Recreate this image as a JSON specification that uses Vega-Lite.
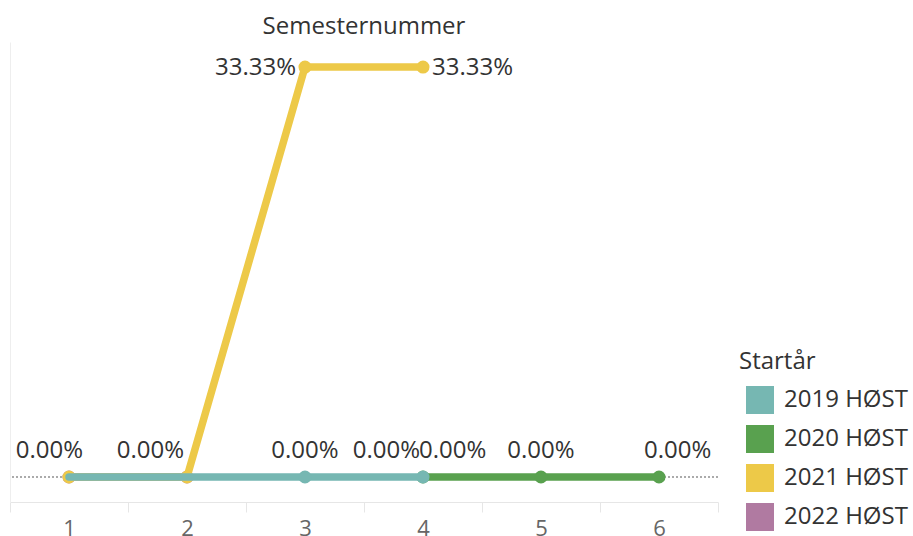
{
  "$schema": "https://vega.github.io/schema/vega-lite/v6.json",
  "autosize": "none",
  "width": 708,
  "height": 460,
  "padding": {"left": 10, "top": 42, "right": 195, "bottom": 34},
  "background": "white",
  "title": {"text": "Semesternummer", "font": "Open Sans", "fontSize": 24, "fontWeight": "normal", "color": "#333", "anchor": "middle", "frame": "group", "baseline": "alphabetic", "offset": 9, "dy": 25},
  "config": {"view": {"stroke": null}},
  "data": {"values": [
    {"Startar": "2022 HØST", "Semester": 1, "Andel": 0},
    {"Startar": "2022 HØST", "Semester": 2, "Andel": 0},
    {"Startar": "2021 HØST", "Semester": 1, "Andel": 0},
    {"Startar": "2021 HØST", "Semester": 2, "Andel": 0},
    {"Startar": "2021 HØST", "Semester": 3, "Andel": 0.3333},
    {"Startar": "2021 HØST", "Semester": 4, "Andel": 0.3333},
    {"Startar": "2020 HØST", "Semester": 4, "Andel": 0},
    {"Startar": "2020 HØST", "Semester": 5, "Andel": 0},
    {"Startar": "2020 HØST", "Semester": 6, "Andel": 0},
    {"Startar": "2019 HØST", "Semester": 1, "Andel": 0},
    {"Startar": "2019 HØST", "Semester": 2, "Andel": 0},
    {"Startar": "2019 HØST", "Semester": 3, "Andel": 0},
    {"Startar": "2019 HØST", "Semester": 4, "Andel": 0}
  ]},
  "encoding": {
    "x": {"field": "Semester", "type": "ordinal", "scale": {"type": "band", "paddingInner": 0, "paddingOuter": 0},
      "axis": {"title": null, "labelAngle": 0, "tickBand": "extent", "grid": false, "domainColor": "#e6e6e6", "tickColor": "#e6e6e6", "tickSize": 10, "labelFont": "Open Sans", "labelFontSize": 22, "labelColor": "#666", "labelPadding": 6}},
    "y": {"field": "Andel", "type": "quantitative", "scale": {"domain": [-0.02033, 0.35365], "nice": false, "zero": false},
      "axis": {"title": null, "labels": false, "ticks": false, "grid": false, "domain": true, "domainColor": "#eeeeee"}},
    "color": {"field": "Startar", "type": "nominal",
      "scale": {"domain": ["2019 HØST", "2020 HØST", "2021 HØST", "2022 HØST"], "range": ["#76B7B2", "#59A14F", "#EDC948", "#B07AA1"]},
      "legend": {"title": "Startår", "orient": "none", "legendX": 729, "legendY": 308, "titleFont": "Open Sans", "titleFontSize": 24, "titleFontWeight": "normal", "titleColor": "#333", "titlePadding": 12, "labelFont": "Open Sans", "labelFontSize": 24, "labelColor": "#333", "symbolType": "square", "symbolSize": 784, "symbolStrokeWidth": 0, "symbolOffset": 7, "labelOffset": 10, "rowPadding": 11,
        "encode": {"symbols": {"update": {"fill": {"scale": "color", "field": "value"}, "stroke": {"value": "transparent"}, "opacity": {"value": 1}, "fillOpacity": {"value": 1}}}}}}
  },
  "layer": [
    {"mark": {"type": "rule", "strokeDash": [2, 2], "color": "#aaaaaa", "strokeWidth": 1}, "encoding": {"x": null, "color": null, "y": {"datum": 0, "type": "quantitative"}}},
    {"transform": [{"filter": "datum.Startar == '2022 HØST'"}], "mark": {"type": "line", "strokeWidth": 7.5, "strokeCap": "round", "strokeJoin": "round"}},
    {"transform": [{"filter": "datum.Startar == '2022 HØST'"}], "mark": {"type": "point", "filled": true, "size": 170, "opacity": 1}},
    {"transform": [{"filter": "datum.Startar == '2021 HØST'"}], "mark": {"type": "line", "strokeWidth": 7.5, "strokeCap": "round", "strokeJoin": "round"}},
    {"transform": [{"filter": "datum.Startar == '2021 HØST'"}], "mark": {"type": "point", "filled": true, "size": 170, "opacity": 1}},
    {"transform": [{"filter": "datum.Startar == '2020 HØST'"}], "mark": {"type": "line", "strokeWidth": 7.5, "strokeCap": "round", "strokeJoin": "round"}},
    {"transform": [{"filter": "datum.Startar == '2020 HØST'"}], "mark": {"type": "point", "filled": true, "size": 170, "opacity": 1}},
    {"transform": [{"filter": "datum.Startar == '2019 HØST'"}], "mark": {"type": "line", "strokeWidth": 7.5, "strokeCap": "round", "strokeJoin": "round"}},
    {"transform": [{"filter": "datum.Startar == '2019 HØST' && datum.Semester >= 3"}], "mark": {"type": "point", "filled": true, "size": 170, "opacity": 1}},
    {"transform": [{"filter": "(datum.Startar == '2019 HØST' && datum.Semester == 3) || (datum.Startar == '2020 HØST' && datum.Semester == 5)"}],
      "mark": {"type": "text", "font": "Open Sans", "fontSize": 24, "align": "center", "baseline": "middle", "dx": 0, "dy": -26},
      "encoding": {"color": {"value": "#333"}, "text": {"field": "Andel", "type": "quantitative", "format": ".2%"}}},
    {"transform": [{"filter": "(datum.Startar == '2021 HØST' && datum.Semester == 2) || (datum.Startar == '2019 HØST' && datum.Semester == 4)"}],
      "mark": {"type": "text", "font": "Open Sans", "fontSize": 24, "align": "right", "baseline": "middle", "dx": -3, "dy": -26},
      "encoding": {"color": {"value": "#333"}, "text": {"field": "Andel", "type": "quantitative", "format": ".2%"}}},
    {"transform": [{"filter": "datum.Startar == '2020 HØST' && datum.Semester == 4"}],
      "mark": {"type": "text", "font": "Open Sans", "fontSize": 24, "align": "left", "baseline": "middle", "dx": -4, "dy": -26},
      "encoding": {"color": {"value": "#333"}, "text": {"field": "Andel", "type": "quantitative", "format": ".2%"}}},
    {"transform": [{"filter": "datum.Startar == '2019 HØST' && datum.Semester == 1"}],
      "mark": {"type": "text", "font": "Open Sans", "fontSize": 24, "align": "right", "baseline": "middle", "dx": 14, "dy": -26},
      "encoding": {"color": {"value": "#333"}, "text": {"field": "Andel", "type": "quantitative", "format": ".2%"}}},
    {"transform": [{"filter": "datum.Startar == '2020 HØST' && datum.Semester == 6"}],
      "mark": {"type": "text", "font": "Open Sans", "fontSize": 24, "align": "left", "baseline": "middle", "dx": -15, "dy": -26},
      "encoding": {"color": {"value": "#333"}, "text": {"field": "Andel", "type": "quantitative", "format": ".2%"}}},
    {"transform": [{"filter": "datum.Startar == '2021 HØST' && datum.Semester == 3"}],
      "mark": {"type": "text", "font": "Open Sans", "fontSize": 24, "align": "right", "baseline": "middle", "dx": -9, "dy": 1},
      "encoding": {"color": {"value": "#333"}, "text": {"field": "Andel", "type": "quantitative", "format": ".2%"}}},
    {"transform": [{"filter": "datum.Startar == '2021 HØST' && datum.Semester == 4"}],
      "mark": {"type": "text", "font": "Open Sans", "fontSize": 24, "align": "left", "baseline": "middle", "dx": 9, "dy": 1},
      "encoding": {"color": {"value": "#333"}, "text": {"field": "Andel", "type": "quantitative", "format": ".2%"}}}
  ]
}
